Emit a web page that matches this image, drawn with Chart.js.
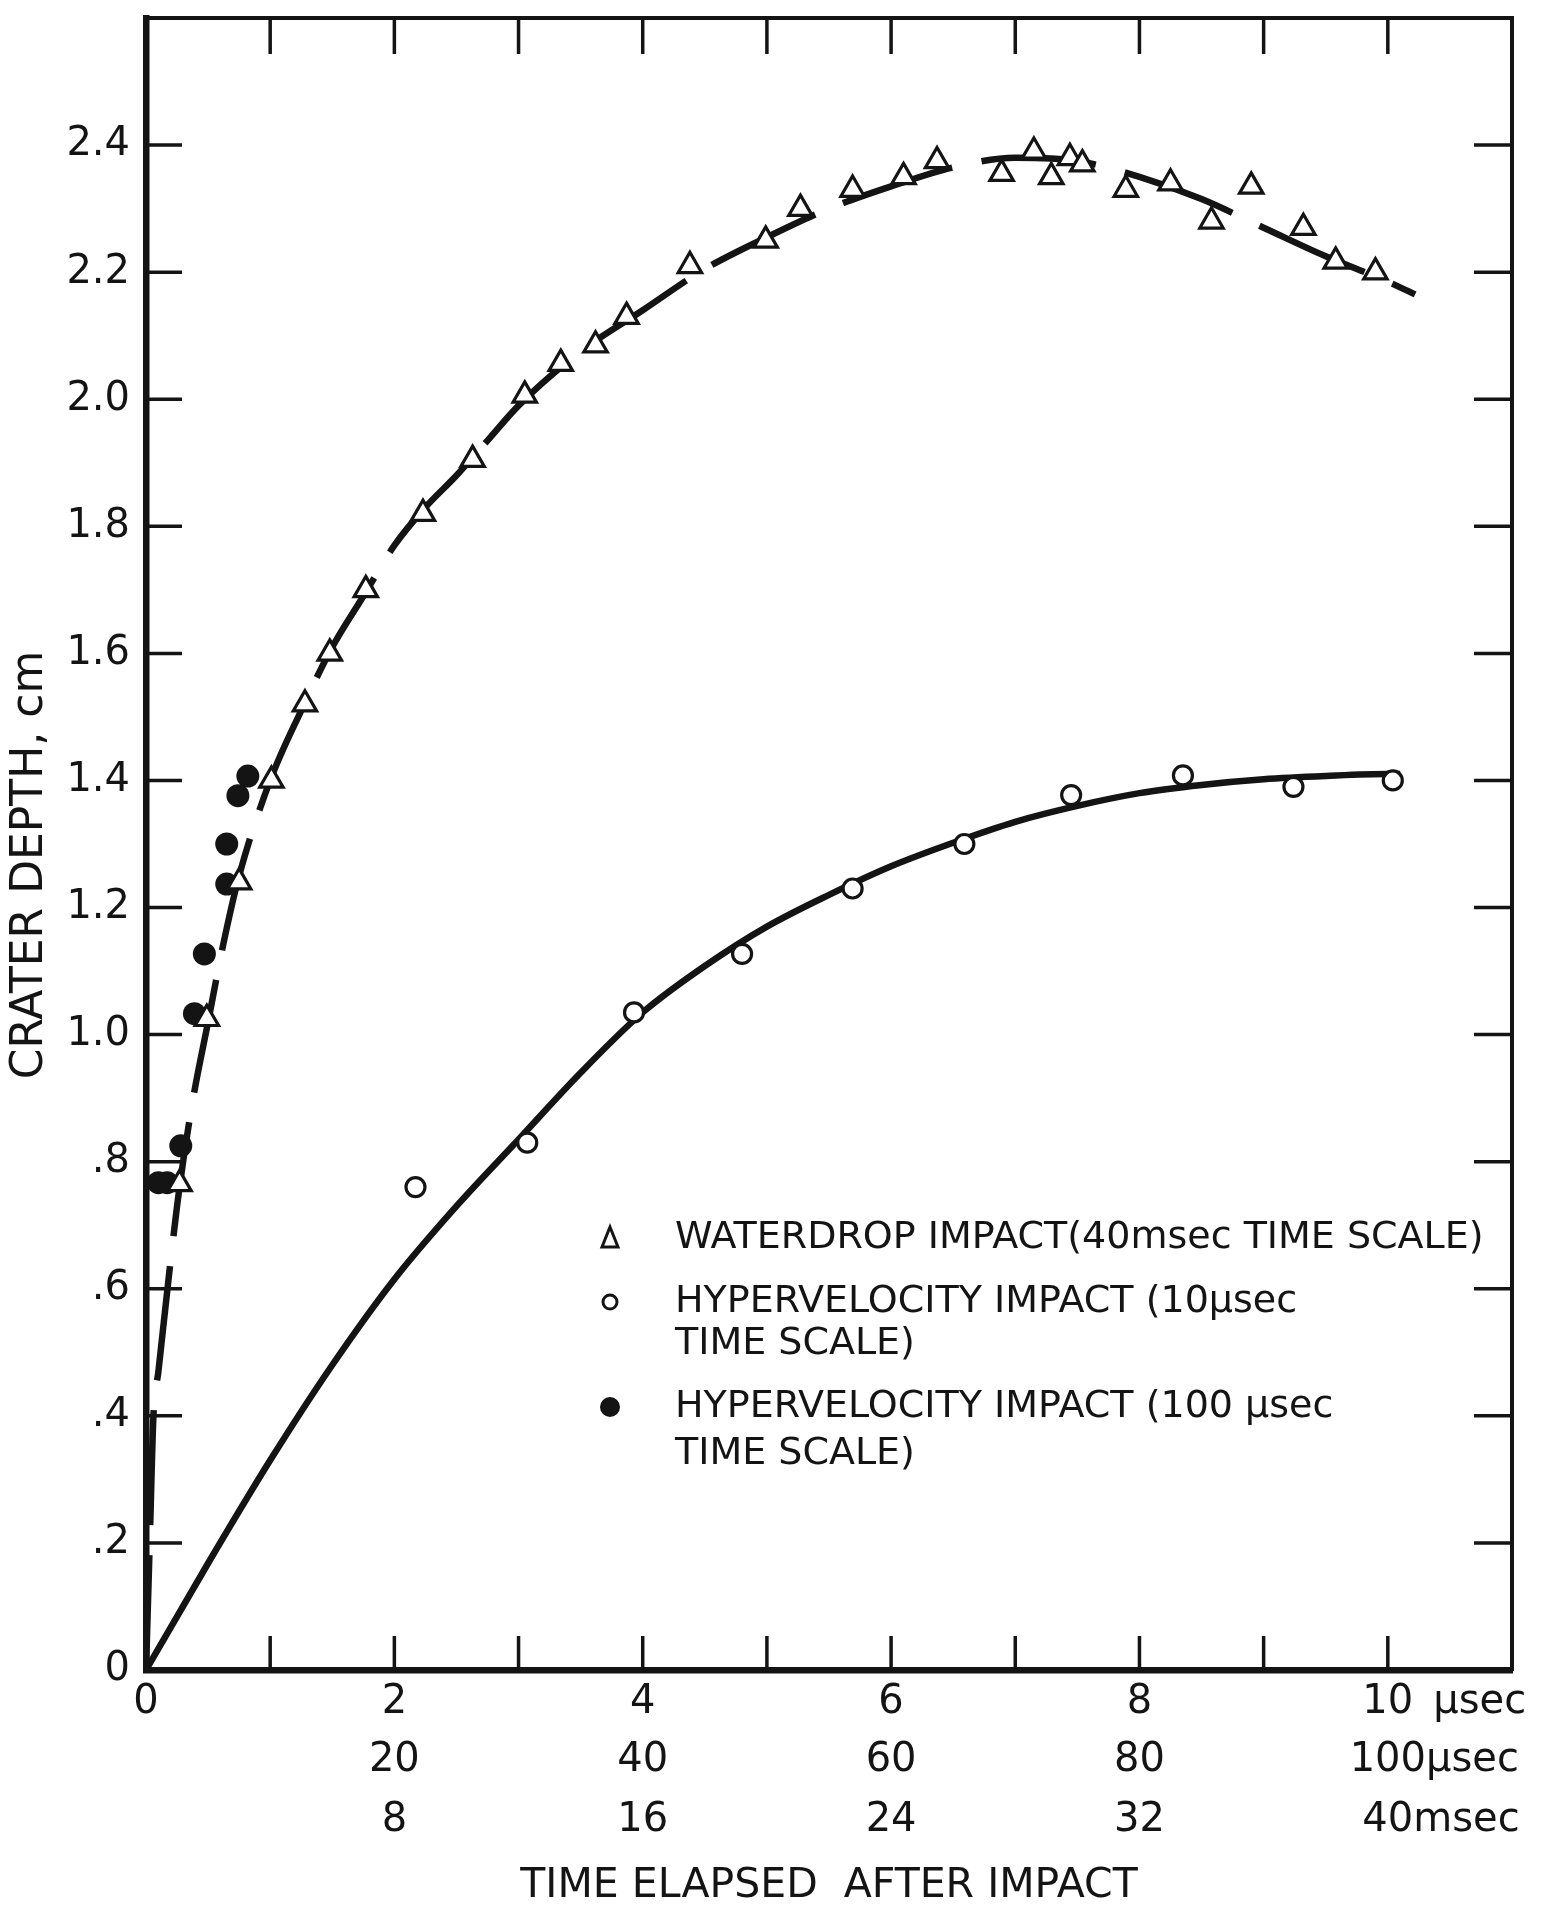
<!DOCTYPE html>
<html>
<head>
<meta charset="utf-8">
<script src="https://cdn.jsdelivr.net/npm/chart.js@4.4.1/dist/chart.umd.min.js"></script>
<style>
html,body{margin:0;padding:0;background:#fff;}
#wrap{width:1559px;height:1913px;position:relative;}
canvas{display:block;}
</style>
</head>
<body>
<div id="wrap"><canvas id="c" width="1559" height="1913"></canvas></div>
<script>
// ---------------- data ----------------
const waterdropX = [0.27,0.49,0.75,1.01,1.28,1.48,1.77,2.23,2.63,3.05,3.34,3.62,3.87,4.38,4.99,5.27,5.69,6.10,6.37,6.89,7.15,7.29,7.44,7.54,7.89,8.25,8.58,8.90,9.32,9.58,9.90];
const waterdropY = [0.765,1.025,1.24,1.40,1.52,1.60,1.70,1.82,1.905,2.006,2.056,2.085,2.13,2.21,2.25,2.30,2.33,2.35,2.375,2.355,2.39,2.35,2.38,2.37,2.33,2.34,2.28,2.335,2.27,2.217,2.20];

const hyper10X = [2.17,3.07,3.93,4.80,5.69,6.59,7.45,8.35,9.24,10.04];
const hyper10Y = [0.76,0.83,1.035,1.127,1.23,1.30,1.377,1.408,1.39,1.40];

const hyper100X = [0.10,0.17,0.28,0.39,0.47,0.65,0.65,0.74,0.82];
const hyper100Y = [0.767,0.767,0.825,1.033,1.127,1.237,1.30,1.376,1.407];

const waterFitX = [0,0.03,0.06,0.10,0.19,0.27,0.38,0.50,0.62,0.75,1.0,1.25,1.5,1.75,2.0,2.25,2.5,2.75,3.0,3.5,4.0,4.5,5.0,5.5,6.0,6.5,7.0,7.5,8.0,8.5,9.0,9.5,10.0,10.22];
const waterFitY = [0,0.20,0.40,0.47,0.63,0.76,0.90,1.02,1.14,1.25,1.40,1.51,1.61,1.69,1.77,1.83,1.88,1.935,1.99,2.075,2.14,2.205,2.255,2.30,2.335,2.365,2.38,2.375,2.35,2.315,2.27,2.225,2.185,2.165];

const hyperFitX = [0,0.5,1,1.5,2,2.5,3,3.5,4,4.5,5,5.5,6,6.5,7,7.5,8,8.5,9,9.5,10,10.1];
const hyperFitY = [0,0.168,0.33,0.48,0.615,0.73,0.835,0.94,1.035,1.108,1.17,1.22,1.265,1.302,1.335,1.36,1.38,1.393,1.402,1.407,1.41,1.41];

const yTickLabels = ['0','.2','.4','.6','.8','1.0','1.2','1.4','1.6','1.8','2.0','2.2','2.4',null];
const xTickValues = [0,2,4,6,8,10];
const xRow1 = ['0','2','4','6','8','10'];
const xRow2 = ['','20','40','60','80','100'];
const xRow3 = ['','8','16','24','32','40'];
const rowUnits = ['\u2002\u00B5sec','\u00B5sec','msec'];

const legendLines = [
  ['WATERDROP IMPACT(40msec TIME SCALE)'],
  ['HYPERVELOCITY IMPACT (10\u00B5sec','TIME SCALE)'],
  ['HYPERVELOCITY IMPACT (100 \u00B5sec','TIME SCALE)']
];
const xTitle = 'TIME ELAPSED  AFTER IMPACT';
const yTitle = 'CRATER DEPTH, cm';

// ---------------- helpers ----------------
const INK = '#141414';
const FONT = '"DejaVu Sans", "Liberation Sans", sans-serif';
const pts = (xs, ys) => xs.map((x, i) => ({x, y: ys[i]}));

const tickPlugin = {
  id: 'inwardTicks',
  beforeDatasetsDraw(chart) {
    const {ctx, chartArea: a, scales: {x, y}} = chart;
    ctx.save();
    ctx.strokeStyle = INK;
    ctx.lineWidth = 3.5;
    ctx.beginPath();
    x.ticks.forEach(t => {
      if (t.value <= 0 || t.value >= 11) return;
      const px = x.getPixelForValue(t.value);
      ctx.moveTo(px, a.bottom); ctx.lineTo(px, a.bottom - 34);
      ctx.moveTo(px, a.top); ctx.lineTo(px, a.top + 36);
    });
    y.ticks.forEach(t => {
      if (t.value <= 0.001 || t.value >= 2.59) return;
      const py = y.getPixelForValue(t.value);
      ctx.moveTo(a.left, py); ctx.lineTo(a.left + 36, py);
      ctx.moveTo(a.right, py); ctx.lineTo(a.right - 38, py);
    });
    ctx.stroke();
    ctx.restore();
  }
};

const xLabelPlugin = {
  id: 'xLabels',
  afterDraw(chart) {
    const {ctx, chartArea: a, scales: {x}} = chart;
    ctx.save();
    ctx.fillStyle = INK;
    ctx.font = '40px ' + FONT;
    ctx.textBaseline = 'middle';
    const rows = [xRow1, xRow2, xRow3];
    const rowY = [a.bottom + 33, a.bottom + 91, a.bottom + 151];
    rows.forEach((row, r) => {
      xTickValues.forEach((v, i) => {
        const txt = row[i];
        if (!txt) return;
        const px = x.getPixelForValue(v);
        ctx.textAlign = 'center';
        ctx.fillText(txt, px, rowY[r]);
        if (i === xTickValues.length - 1) {
          const w = ctx.measureText(txt).width;
          ctx.textAlign = 'left';
          ctx.fillText(rowUnits[r], px + w / 2, rowY[r]);
        }
      });
    });
    ctx.restore();
  }
};

const legendPlugin = {
  id: 'inlineLegend',
  afterDraw(chart) {
    const {ctx} = chart;
    ctx.save();
    ctx.fillStyle = INK;
    ctx.strokeStyle = INK;
    ctx.font = '38px ' + FONT;
    ctx.textBaseline = 'middle';
    ctx.textAlign = 'left';
    const mx = 610, tx = 675;
    const rowsY = [[1238], [1302, 1344], [1407, 1454]];
    legendLines.forEach((lines, i) => {
      lines.forEach((s, j) => ctx.fillText(s, tx, rowsY[i][j]));
    });
    // markers
    ctx.lineWidth = 3;
    const y0 = rowsY[0][0];
    ctx.beginPath();
    ctx.moveTo(mx, y0 - 11); ctx.lineTo(mx + 8, y0 + 9); ctx.lineTo(mx - 8, y0 + 9); ctx.closePath();
    ctx.stroke();
    ctx.beginPath();
    ctx.arc(mx, rowsY[1][0], 7, 0, Math.PI * 2);
    ctx.stroke();
    ctx.beginPath();
    ctx.arc(mx, rowsY[2][0], 10, 0, Math.PI * 2);
    ctx.fill();
    ctx.restore();
  }
};

Chart.defaults.font.family = FONT;
Chart.defaults.color = INK;

new Chart(document.getElementById('c'), {
  type: 'scatter',
  data: {
    datasets: [
      {
        label: 'WATERDROP IMPACT (40msec TIME SCALE)',
        data: pts(waterdropX, waterdropY),
        pointStyle: 'triangle', pointRadius: 13.5, borderWidth: 3.2,
        borderColor: INK, backgroundColor: '#fff', showLine: false, order: 1
      },
      {
        label: 'HYPERVELOCITY IMPACT (10\u00B5sec TIME SCALE)',
        data: pts(hyper10X, hyper10Y),
        pointStyle: 'circle', pointRadius: 9.5, borderWidth: 3.2,
        borderColor: INK, backgroundColor: '#fff', showLine: false, order: 1
      },
      {
        label: 'HYPERVELOCITY IMPACT (100 \u00B5sec TIME SCALE)',
        data: pts(hyper100X, hyper100Y),
        pointStyle: 'circle', pointRadius: 11.5, borderWidth: 0,
        borderColor: INK, backgroundColor: INK, showLine: false, order: 1
      },
      {
        label: 'waterdrop fit',
        data: pts(waterFitX, waterFitY),
        showLine: true, pointRadius: 0, borderWidth: 6.5, borderColor: INK,
        borderDash: [115, 30], cubicInterpolationMode: 'monotone', fill: false, order: 5
      },
      {
        label: 'hypervelocity fit',
        data: pts(hyperFitX, hyperFitY),
        showLine: true, pointRadius: 0, borderWidth: 6.5, borderColor: INK,
        cubicInterpolationMode: 'monotone', fill: false, order: 5
      }
    ]
  },
  options: {
    responsive: false,
    animation: false,
    devicePixelRatio: 1,
    events: [],
    layout: {padding: {top: 18, right: 47, left: 0, bottom: 0}},
    plugins: {legend: {display: false}, tooltip: {enabled: false}},
    scales: {
      x: {
        type: 'linear', position: 'bottom', min: 0, max: 11,
        ticks: {display: false, stepSize: 1},
        grid: {display: true, drawOnChartArea: false, drawTicks: false},
        border: {display: true, width: 6.5, color: INK},
        title: {display: true, text: xTitle, font: {size: 41}, color: INK, padding: {top: 0, bottom: 2}},
        afterFit: s => { s.height = 243; s.paddingLeft = 0; s.paddingRight = 0; }
      },
      y: {
        type: 'linear', position: 'left', min: 0, max: 2.6,
        ticks: {
          stepSize: 0.2, padding: 16, font: {size: 40}, color: INK,
          callback: v => yTickLabels[Math.round(v * 5)]
        },
        grid: {display: true, drawOnChartArea: false, drawTicks: false},
        border: {display: true, width: 6.5, color: INK},
        title: {display: true, text: yTitle + '   ', font: {size: 44}, color: INK, padding: {top: 4, bottom: 0}},
        afterFit: s => { s.width = 146; s.paddingTop = 0; s.paddingBottom = 0; }
      },
      x2: {
        type: 'linear', position: 'top', min: 0, max: 11,
        ticks: {display: false},
        grid: {display: true, drawOnChartArea: false, drawTicks: false},
        border: {display: true, width: 4, color: INK},
        afterFit: s => { s.height = 0; s.paddingLeft = 0; s.paddingRight = 0; }
      },
      y2: {
        type: 'linear', position: 'right', min: 0, max: 2.6,
        ticks: {display: false},
        grid: {display: true, drawOnChartArea: false, drawTicks: false},
        border: {display: true, width: 4, color: INK},
        afterFit: s => { s.width = 0; s.paddingTop = 0; s.paddingBottom = 0; }
      }
    }
  },
  plugins: [tickPlugin, xLabelPlugin, legendPlugin]
});
</script>
</body>
</html>
